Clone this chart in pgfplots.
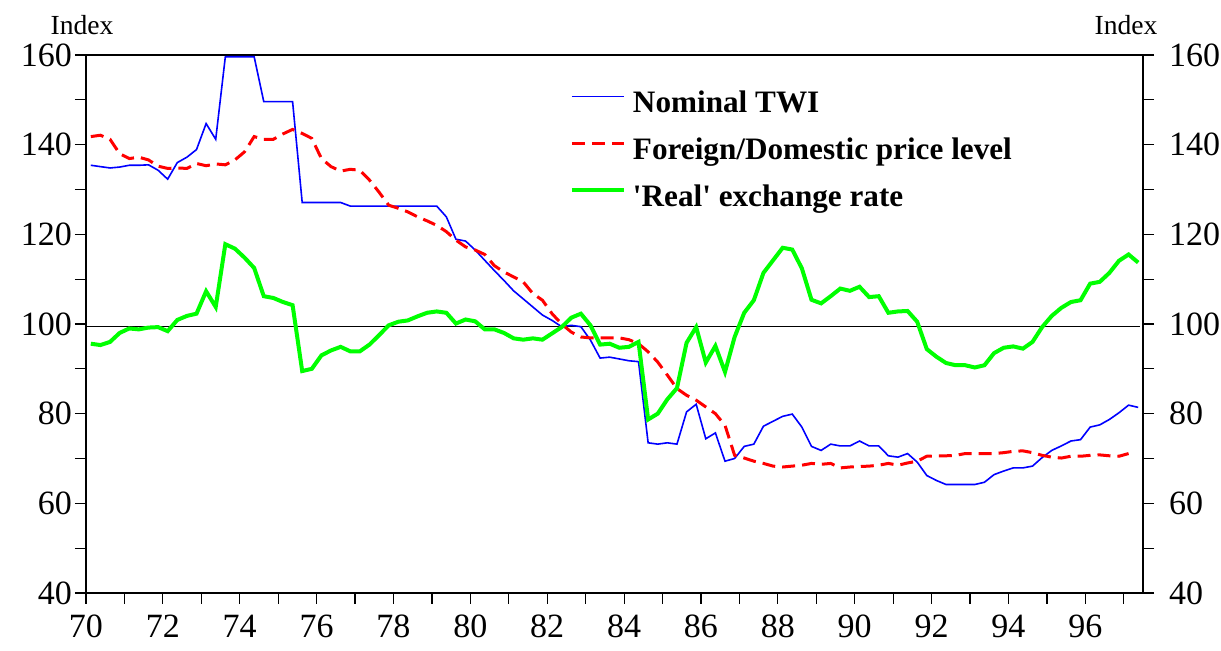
\documentclass[border=0pt]{standalone}
\usepackage{fontspec}
\setmainfont{Liberation Serif}
\usepackage{pgfplots}
\usepackage{pgfplotstable}
\pgfplotsset{compat=1.18}
\pgfplotstableread{
x B R G
70.125 135.4 141.8 95.6
70.375 135.1 142.1 95.3
70.625 134.8 141.2 96.0
70.875 135.0 138.0 98.0
71.125 135.4 136.9 99.0
71.375 135.4 137.2 98.8
71.625 135.5 136.6 99.2
71.875 134.3 135.2 99.3
72.125 132.3 134.7 98.4
72.375 136.0 134.8 100.9
72.625 137.2 134.7 101.8
72.875 138.9 135.8 102.3
73.125 144.7 135.3 107.3
73.375 141.2 135.7 103.8
73.625 159.6 135.5 117.8
73.875 159.6 136.6 116.8
74.125 159.6 138.4 114.8
74.375 159.6 141.8 112.5
74.625 149.6 141.2 106.2
74.875 149.6 141.2 105.8
75.125 149.6 142.4 104.9
75.375 149.6 143.4 104.2
75.625 127.1 142.5 89.5
75.875 127.1 141.4 90.0
76.125 127.1 136.9 93.0
76.375 127.1 135.1 94.1
76.625 127.1 134.1 94.9
76.875 126.3 134.5 93.9
77.125 126.3 134.3 93.9
77.375 126.3 132.1 95.4
77.625 126.3 129.4 97.5
77.875 126.3 126.5 99.7
78.125 126.3 125.8 100.5
78.375 126.3 125.0 100.8
78.625 126.3 123.9 101.7
78.875 126.3 123.0 102.5
79.125 126.3 122.0 102.8
79.375 123.9 120.6 102.5
79.625 118.9 118.7 100.1
79.875 118.5 117.2 101.0
80.125 116.5 116.5 100.6
80.375 114.2 115.5 98.8
80.625 111.9 113.0 98.8
80.875 109.7 111.6 98.0
81.125 107.4 110.5 96.8
81.375 105.6 109.4 96.5
81.625 103.8 106.8 96.8
81.875 102.0 105.3 96.5
82.125 100.8 102.3 97.9
82.375 99.4 100.0 99.3
82.625 99.7 98.2 101.4
82.875 99.4 97.1 102.3
83.125 96.4 96.9 99.7
83.375 92.4 96.9 95.4
83.625 92.6 96.9 95.6
83.875 92.2 96.9 94.7
84.125 91.8 96.5 94.9
84.375 91.6 95.6 96.0
84.625 73.5 93.8 78.7
84.875 73.2 91.5 80.0
85.125 73.5 88.6 83.2
85.375 73.2 85.6 85.7
85.625 80.4 84.1 95.8
85.875 82.1 83.0 99.3
86.125 74.4 81.5 91.4
86.375 75.7 80.0 95.1
86.625 69.4 77.4 89.3
86.875 70.0 70.7 97.1
87.125 72.7 70.1 102.5
87.375 73.2 69.4 105.3
87.625 77.2 68.9 111.4
87.875 78.3 68.3 114.2
88.125 79.4 68.1 117.0
88.375 79.9 68.3 116.6
88.625 77.0 68.5 112.4
88.875 72.7 68.9 105.4
89.125 71.8 68.7 104.6
89.375 73.2 68.9 106.2
89.625 72.8 67.9 107.9
89.875 72.8 68.1 107.4
90.125 73.9 68.2 108.3
90.375 72.8 68.3 106.0
90.625 72.8 68.5 106.2
90.875 70.6 68.9 102.5
91.125 70.3 68.5 102.8
91.375 71.1 69.0 102.9
91.625 69.2 69.4 100.5
91.875 66.2 70.5 94.4
92.125 65.1 70.6 92.7
92.375 64.2 70.6 91.3
92.625 64.2 70.7 90.8
92.875 64.2 71.1 90.8
93.125 64.2 71.1 90.3
93.375 64.7 71.1 90.8
93.625 66.4 71.1 93.5
93.875 67.2 71.3 94.7
94.125 67.9 71.6 95.0
94.375 67.9 71.7 94.5
94.625 68.3 71.3 96.0
94.875 70.2 70.7 99.3
95.125 71.8 70.3 101.8
95.375 72.8 70.1 103.6
95.625 73.9 70.5 104.9
95.875 74.2 70.5 105.3
96.125 77.0 70.7 109.0
96.375 77.5 70.8 109.4
96.625 78.7 70.6 111.4
96.875 80.2 70.5 114.1
97.125 81.9 71.1 115.5
97.375 81.4 nan 113.7
}\data
\begin{document}
\begin{tikzpicture}[x=1pt,y=1pt]
\path[use as bounding box] (-43,-29) rectangle (567.5,296.5);
\begin{axis}[
  at={(0,0)}, anchor=south west, scale only axis,
  width=528.5pt, height=269pt,
  xmin=70, xmax=97.5, ymin=40, ymax=160,
  xtick={70,72,...,96}, minor xtick={71,73,...,97},
  ytick={40,60,...,160}, minor ytick={50,70,...,150},
  xtick pos=bottom, ytick pos=left,
  tick align=outside,
  major tick length=5.5pt, minor tick length=5.5pt,
  every tick/.style={black, line width=0.6pt},
  axis line style={line width=0.7pt},
  /pgf/number format/assume math mode=true,
  ticklabel style={font=\fontsize{17}{20}\selectfont},
  xticklabel style={yshift=-2pt},
  yticklabel style={xshift=2pt},
  legend style={at={(0.4575,0.935)}, anchor=north west, draw=none, fill=none,
    inner sep=0pt, row sep=9.5pt, column sep=3.5pt,
    font=\fontsize{15.6}{18}\bfseries\selectfont,
    nodes={inner sep=0pt, text height=11pt, text depth=3pt}},
  legend cell align=left,
  legend image code/.code={\draw[#1] (0pt,4pt) -- (26pt,4pt);},
  unbounded coords=discard,
]
\addplot[black, line width=0.5pt, forget plot] coordinates {(70,99.4) (97.42,99.4)};
\addplot[blue, line width=0.8pt] table[x=x, y=B] {\data};
\addlegendentry{Nominal TWI}
\addplot[red, line width=1.5pt, dash pattern=on 6.5pt off 3.5pt] table[x=x, y=R] {\data};
\addlegendentry{Foreign/Domestic price level}
\addplot[green, line width=2pt] table[x=x, y=G] {\data};
\addlegendentry{\textquotesingle Real\textquotesingle\ exchange rate}
\end{axis}
\begin{axis}[
  at={(0,0)}, anchor=south west, scale only axis,
  width=528.5pt, height=269pt,
  xmin=70, xmax=97.5, ymin=40, ymax=160,
  hide x axis, axis y line*=right,
  ytick={40,60,...,160}, minor ytick={50,70,...,150},
  tick align=outside,
  major tick length=5.5pt, minor tick length=5.5pt,
  every tick/.style={black, line width=0.6pt},
  axis line style={line width=0.7pt},
  /pgf/number format/assume math mode=true,
  ticklabel style={font=\fontsize{17}{20}\selectfont},
  yticklabel style={xshift=4pt},
]
\end{axis}
\node[anchor=base, font=\fontsize{13.8}{16}\selectfont] at (-2,279) {Index};
\node[anchor=base, font=\fontsize{13.8}{16}\selectfont] at (520,279) {Index};
\end{tikzpicture}
\end{document}
